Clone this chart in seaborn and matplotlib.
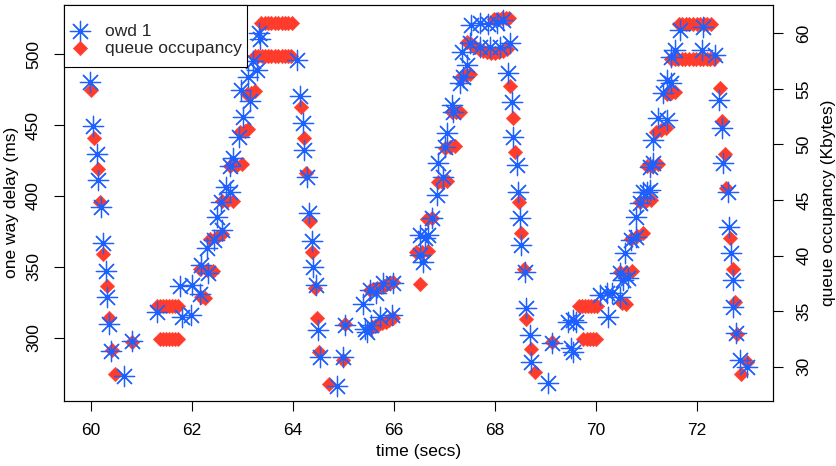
import matplotlib
matplotlib.use("Agg")
import matplotlib.pyplot as plt
from matplotlib.patches import Rectangle
import seaborn as sns

# ---------------- data ----------------
owd_time = [
    59.99, 60.05, 60.12, 60.14, 60.20, 60.24, 60.30, 60.32, 60.37, 60.40, 60.65, 60.82,
    61.31, 61.77, 61.80, 62.00, 61.98, 62.16, 62.18, 62.33, 62.30, 62.44, 62.50, 62.59,
    62.58, 62.68, 62.76, 62.76, 62.82, 62.93, 63.02, 63.15, 62.98, 63.12, 63.29, 63.22,
    63.35, 63.33,
    64.08, 64.14, 64.20, 64.22, 64.28, 64.33, 64.38, 64.41, 64.46, 64.51, 64.55, 64.87,
    65.00, 65.04,
    65.40, 65.44, 65.47, 65.53, 65.55, 65.66, 65.73, 65.79, 65.96, 65.99,
    66.52, 66.52, 66.59, 66.62, 66.69, 66.75, 66.85, 66.88, 66.98, 67.02, 67.05, 67.15,
    67.18, 67.31, 67.38, 67.45, 67.35, 67.51, 67.71, 67.90, 68.10, 68.30, 67.54, 67.71,
    67.87, 68.04, 68.17,
    68.27, 68.34, 68.37, 68.44, 68.47, 68.50, 68.53, 68.60, 68.63, 68.70, 68.73, 69.06,
    69.13,
    69.46, 69.52, 69.56, 69.62, 69.55, 70.09, 70.22, 70.25, 70.32, 70.48, 70.48, 70.55,
    70.65,
    70.58, 70.71, 70.81, 70.81, 70.88, 70.94, 71.01, 71.07, 71.07, 71.14, 71.14, 71.24,
    71.34, 71.41, 71.41, 71.50, 71.50, 71.57, 71.67, 72.10, 72.13, 72.36,
    72.44, 72.50, 72.53, 72.63, 72.65, 72.69, 72.72, 72.72, 72.79, 72.86, 72.99,
]
owd_ms = [
    480.5, 449.4, 429.6, 411.3, 392.0, 366.6, 347.3, 329.0, 309.5, 290.8, 273.0, 297.5,
    318.0, 336.5, 314.5, 337.0, 316.0, 331.0, 351.0, 345.5, 363.0, 369.0, 385.4, 376.0,
    396.0, 406.6, 402.5, 421.0, 426.6, 442.0, 456.0, 467.0, 475.0, 484.2, 489.0, 495.0,
    510.5, 515.0,
    496.0, 470.6, 451.3, 432.5, 413.2, 387.8, 368.2, 350.1, 337.2, 305.4, 286.6, 265.9,
    286.6, 309.0,
    323.5, 306.0, 304.0, 333.7, 309.0, 331.3, 314.8, 338.4, 316.0, 338.8,
    358.4, 372.5, 353.6, 370.2, 372.5, 384.3, 400.7, 423.1, 413.6, 434.8, 444.2, 464.2,
    459.5, 479.5, 484.2, 492.4, 501.8, 507.7, 505.4, 505.4, 505.4, 507.7, 520.7, 521.9,
    521.4, 521.9, 524.2,
    486.6, 466.5, 441.9, 421.9, 403.0, 384.3, 365.4, 346.6, 320.8, 301.9, 283.0, 267.8,
    296.5,
    311.3, 292.5, 312.5, 311.3, 290.0, 330.1, 331.3, 314.8, 331.3, 345.4, 329.0, 340.7,
    341.9,
    359.6, 369.0, 371.3, 385.4, 394.8, 403.0, 403.0, 404.2, 420.7, 423.1, 439.5, 454.8,
    472.5, 453.6, 481.9, 479.5, 498.3, 503.0, 517.1, 503.0, 519.5, 499.5,
    467.8, 447.8, 423.1, 403.0, 378.3, 359.6, 340.7, 321.9, 303.1, 284.3, 279.6,
]

queue_time = [
    60.00, 60.07, 60.14, 60.18, 60.25, 60.32, 60.37, 60.42, 60.48, 60.82,
    61.31, 61.37, 61.43, 61.49, 61.55, 61.61, 61.67, 61.73,
    61.37, 61.43, 61.49, 61.55, 61.61, 61.67, 61.73,
    62.18, 62.26, 62.16, 62.30, 62.43, 62.36, 62.50, 62.59, 62.59, 62.70, 62.82,
    62.76, 62.88, 62.99, 62.96, 63.05, 63.12, 63.09, 63.17, 63.25,
    63.38, 63.45, 63.51, 63.58, 63.65, 63.71, 63.78, 63.85, 63.91, 63.98,
    63.26, 63.32, 63.39, 63.45, 63.52, 63.58, 63.65, 63.71, 63.78, 63.84, 63.91, 63.97,
    64.16, 64.22, 64.26, 64.34, 64.39, 64.44, 64.49, 64.53, 64.72, 65.00, 65.04,
    65.53, 65.60, 65.67, 65.74, 65.80, 65.87, 65.93, 65.99,
    65.57, 65.63, 65.70, 65.77, 65.84, 65.91, 65.99,
    66.52, 66.44, 66.56, 66.68, 66.66, 66.75, 66.88, 66.96, 67.05, 67.02, 67.12, 67.21,
    67.15, 67.23, 67.31, 67.35, 67.43, 67.51,
    67.45, 67.53, 67.61, 67.69, 67.77, 67.85, 67.93, 68.01, 68.09, 68.17, 68.25,
    67.98, 68.06, 68.14, 68.22, 68.28,
    68.30, 68.37, 68.40, 68.49, 68.53, 68.58, 68.63, 68.73, 68.80, 69.13,
    69.67, 69.73, 69.79, 69.85, 69.91, 69.97, 70.03,
    69.76, 69.82, 69.88, 69.94, 70.00,
    70.49, 70.60, 70.72, 70.52, 70.60, 70.70, 70.82, 70.93, 70.88, 71.00, 71.10,
    71.01, 71.12, 71.23, 71.20, 71.30, 71.40, 71.41, 71.49, 71.57,
    71.50, 71.57, 71.64, 71.71, 71.78, 71.85, 71.92, 71.99, 72.06, 72.13, 72.20, 72.27, 72.34,
    71.65, 71.72, 71.79, 71.86, 71.93, 72.00, 72.07, 72.14, 72.21, 72.28,
    72.46, 72.50, 72.56, 72.59, 72.67, 72.72, 72.76, 72.80, 72.89, 72.99,
]
queue_kb = [
    54.9, 50.6, 47.8, 44.8, 40.1, 37.3, 34.4, 31.5, 29.3, 32.2,
    35.5, 35.5, 35.5, 35.5, 35.5, 35.5, 35.5, 35.5,
    32.45, 32.45, 32.45, 32.45, 32.45, 32.45, 32.45,
    36.3, 36.2, 38.8, 38.7, 38.6, 41.5, 41.7, 41.9, 44.9, 44.9, 44.9,
    48.1, 48.1, 48.2, 51.1, 51.2, 51.4, 54.5, 54.6, 54.8,
    60.9, 60.9, 60.9, 60.9, 60.9, 60.9, 60.9, 60.9, 60.9, 60.9,
    58.0, 58.0, 58.0, 58.0, 58.0, 58.0, 58.0, 58.0, 58.0, 58.0, 58.0, 58.0,
    53.4, 50.55, 47.46, 43.1, 40.3, 37.1, 34.4, 31.3, 28.4, 30.6, 33.8,
    36.9, 37.0, 37.1, 37.2, 37.3, 37.4, 37.5, 37.6,
    33.6, 33.7, 33.8, 33.9, 34.0, 34.2, 34.4,
    37.4, 40.3, 40.35, 40.4, 43.3, 43.4, 46.6, 46.6, 46.7, 49.7, 49.8, 49.9,
    52.9, 52.9, 52.9, 56.2, 56.25, 56.3,
    59.2, 59.0, 58.8, 58.6, 58.4, 58.3, 58.2, 58.2, 58.3, 58.4, 58.6,
    61.3, 61.3, 61.35, 61.4, 61.4,
    55.3, 52.4, 49.3, 44.8, 42.0, 38.8, 34.3, 31.6, 29.5, 32.2,
    35.45, 35.45, 35.45, 35.45, 35.45, 35.45, 35.45,
    32.45, 32.45, 32.45, 32.45, 32.45,
    38.5, 38.55, 38.6, 35.7, 35.6, 41.5, 41.8, 42.0, 44.8, 44.9, 45.0,
    48.1, 48.1, 48.2, 51.1, 51.3, 51.5, 54.5, 54.6, 54.7,
    57.66, 57.66, 57.66, 57.66, 57.66, 57.66, 57.66, 57.66, 57.66, 57.66, 57.66, 57.66, 57.66,
    60.8, 60.8, 60.8, 60.8, 60.8, 60.8, 60.8, 60.8, 60.8, 60.8,
    55.1, 52.1, 49.1, 46.1, 41.6, 38.8, 35.8, 32.9, 29.3, 30.4,
]

x_ticks = [60, 62, 64, 66, 68, 70, 72]
owd_ticks = [300, 350, 400, 450, 500]
queue_ticks = [30, 35, 40, 45, 50, 55, 60]

BLUE = "#1c60ff"
RED = "#ff3b2c"

# ---------------- style ----------------
sns.set_theme(style="white")
plt.rcParams["font.family"] = ["Liberation Sans", "DejaVu Sans"]
plt.rcParams["axes.edgecolor"] = "black"
plt.rcParams["axes.linewidth"] = 0.8

FS = 12.5

fig = plt.figure(figsize=(8.37, 4.66), dpi=100)
W, H = 837.0, 466.0
ax_left, ax_right, ax_top, ax_bottom = 64.0, 773.3, 5.0, 400.5
ax = fig.add_axes([ax_left / W, 1 - ax_bottom / H,
                   (ax_right - ax_left) / W, (ax_bottom - ax_top) / H])
ax2 = ax.twinx()
ax.set_zorder(ax2.get_zorder() + 1)
ax.patch.set_visible(False)

sns.scatterplot(x=queue_time, y=queue_kb, ax=ax2, marker="D", s=55,
                color=RED, edgecolor=RED, linewidth=0.3,
                label="queue occupancy", legend=False)
sns.scatterplot(x=owd_time, y=owd_ms, ax=ax, marker=(8, 2, 0), s=215,
                color=BLUE, edgecolor=BLUE, linewidth=0.9,
                label="owd 1", legend=False)

ax.set_xlim(59.47, 73.52)
ax.set_ylim(255.7, 534.8)
ax2.set_ylim(26.96, 62.55)
ax.set_xticks(x_ticks)
ax.set_yticks(owd_ticks)
ax2.set_yticks(queue_ticks)
ax.set_xticklabels([str(v) for v in x_ticks])
ax.set_yticklabels([str(v) for v in owd_ticks])
ax2.set_yticklabels([str(v) for v in queue_ticks])

for a in (ax, ax2):
    a.tick_params(axis="both", direction="out", length=7.5, width=0.8,
                  color="black", labelsize=FS, labelcolor="black")
    for sp in a.spines.values():
        sp.set_visible(True)
        sp.set_color("black")
        sp.set_linewidth(0.8)
ax.tick_params(axis="x", pad=9, bottom=True)
ax.tick_params(axis="y", pad=9, left=True, labelrotation=90)
ax2.tick_params(axis="y", pad=9, right=True, labelrotation=90)
for t in ax.get_yticklabels() + ax2.get_yticklabels():
    t.set_va("center")

ax.set_xlabel("time (secs)", fontsize=FS, labelpad=4, color="black")
ax.set_ylabel("one way delay (ms)", fontsize=FS, labelpad=5, color="black")
ax2.set_ylabel("queue occupancy (Kbytes)", fontsize=FS, labelpad=7, color="black")

# legend box (R style: square box flush with the top-left plot corner)
axw, axh = ax_right - ax_left, ax_bottom - ax_top
box_w = (247.3 - ax_left) / axw
box_h = (67.3 - ax_top) / axh
ax.add_patch(Rectangle((0, 1 - box_h), box_w, box_h, transform=ax.transAxes,
                       facecolor="white", edgecolor="black", linewidth=0.8,
                       zorder=4.5, clip_on=False))

h1, l1 = ax.get_legend_handles_labels()
h2, l2 = ax2.get_legend_handles_labels()
leg = ax.legend(h1 + h2, l1 + l2, loc="upper left",
                bbox_to_anchor=(0, 1 - 9.0 / axh),
                borderaxespad=0, frameon=False, fontsize=FS, handlelength=0.7,
                handletextpad=1.1, borderpad=0.55, labelspacing=0.1,
                scatterpoints=1)
leg.set_zorder(5)

fig.savefig("out.png", dpi=100)
